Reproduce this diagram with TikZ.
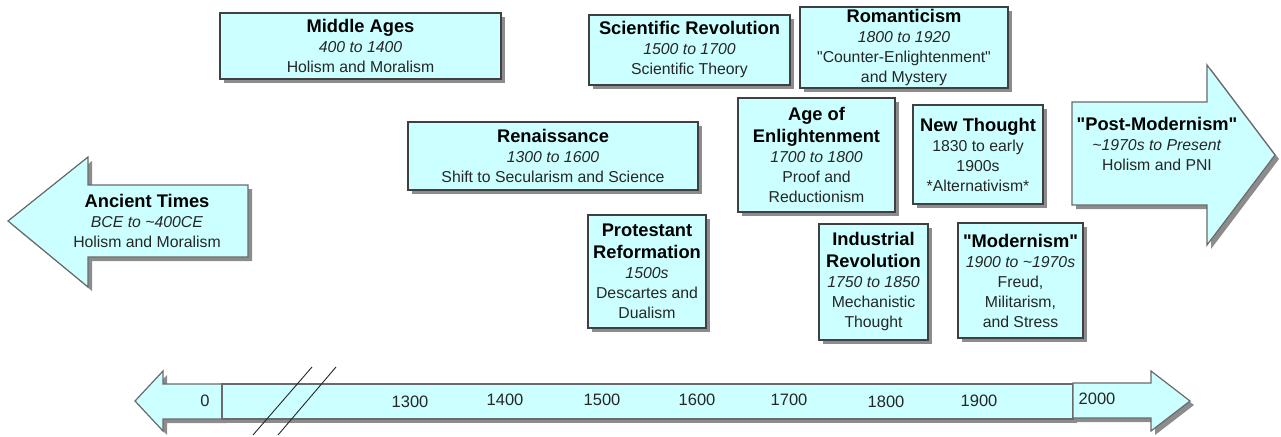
\documentclass[tikz,border=0pt]{standalone}
\usepackage{fontspec}
\setmainfont{Liberation Sans}
\usetikzlibrary{shadows}
\definecolor{boxfill}{HTML}{CCFFFF}
\definecolor{boxline}{HTML}{404040}
\definecolor{arrline}{HTML}{6A6A6A}
\definecolor{txt}{HTML}{262626}
\definecolor{shadowc}{HTML}{8C8C8C}
\newcommand\ttl[1]{{\fontsize{18.3}{22}\selectfont\bfseries\color{black}#1}}
\newcommand\dq{\textquotedbl}
\begin{document}
\begin{tikzpicture}[x=1pt,y=-1pt,
  shade/.style={drop shadow={shadow xshift=4pt, shadow yshift=-4pt, fill=shadowc, opacity=1}},
  box/.style={draw=boxline, line width=2.2pt, fill=boxfill, shade, text=txt, align=center, inner sep=0pt,
    font=\fontsize{15.8}{20}\selectfont},
  arr/.style={draw=arrline, line width=1.2pt, fill=boxfill, shade},
  lbl/.style={text=txt, align=center, inner sep=0pt, font=\fontsize{15.8}{20}\selectfont},
  yr/.style={text=txt, inner sep=0pt, font=\fontsize{16.5}{18}\selectfont},
  brk/.style={draw=black!85, line width=0.9pt}]
\useasboundingbox (0,0) rectangle (1281,436);

% big arrows
\draw[arr] (8,221) -- (88,157) -- (88,185) -- (248,185) -- (248,257) -- (88,257) -- (88,287) -- cycle;
\node[lbl] (ancient) at (147,221) {\ttl{Ancient Times}\\ \textit{BCE to \textasciitilde400CE}\\ Holism and Moralism};

\draw[arr] (1072,102) -- (1207,102) -- (1207,65) -- (1275,155) -- (1207,245) -- (1207,205) -- (1072,205) -- cycle;
\node[lbl] (postmod) at (1157,144) {\ttl{\dq Post-Modernism\dq}\\ \textit{\textasciitilde1970s to Present}\\ Holism and PNI};

% boxes
\node[box, minimum width=281pt, minimum height=66pt] (middle) at (360.5,46) {\ttl{Middle Ages}\\ \textit{400 to 1400}\\ Holism and Moralism};
\node[box, minimum width=201pt, minimum height=70pt] (scirev) at (689.5,50) {\ttl{Scientific Revolution}\\ \textit{1500 to 1700}\\ Scientific Theory};
\node[box, minimum width=208pt, minimum height=81pt] (roman) at (904,47.5) {\ttl{Romanticism}\\ \textit{1800 to 1920}\\ \dq Counter-Enlightenment\dq\\ and Mystery};
\node[box, minimum width=290pt, minimum height=68pt] (renais) at (553,156) {\ttl{Renaissance}\\ \textit{1300 to 1600}\\ Shift to Secularism and Science};
\node[box, minimum width=157pt, minimum height=114pt] (enlight) at (816.5,155) {\ttl{Age of}\\[2pt] \ttl{Enlightenment}\\ \textit{1700 to 1800}\\ Proof and\\ Reductionism};
\node[box, minimum width=130pt, minimum height=99pt] (newth) at (978,154.5) {\ttl{New Thought}\\ 1830 to early\\ 1900s\\ *Alternativism*};
\node[box, minimum width=118pt, minimum height=113pt] (protest) at (647,271.5) {\ttl{Protestant}\\[2pt] \ttl{Reformation}\\ \textit{1500s}\\ Descartes and\\ Dualism};
\node[box, minimum width=109pt, minimum height=116pt] (indus) at (873.5,282) {\ttl{Industrial}\\[2pt] \ttl{Revolution}\\ \textit{1750 to 1850}\\ Mechanistic\\ Thought};
\node[box, minimum width=125pt, minimum height=115pt] (modern) at (1020.5,280.5) {\ttl{\dq Modernism\dq}\\ \textit{1900 to \textasciitilde1970s}\\ Freud,\\ Militarism,\\ and Stress};

% timeline
\draw[arr] (135,401) -- (163,371) -- (163,384) -- (222,384) -- (222,419) -- (163,419) -- (163,431) -- cycle;
\draw[arr] (222,384) rectangle (1073,419);
\draw[arr] (1073,383) -- (1151,383) -- (1151,371) -- (1190,401) -- (1151,431) -- (1151,418) -- (1073,418) -- cycle;

\coordinate (b1a) at (253,435); \coordinate (b1b) at (312,367);
\coordinate (b2a) at (278,435); \coordinate (b2b) at (336,367);
\draw[brk] (b1a) -- (b1b);
\draw[brk] (b2a) -- (b2b);

\node[yr] (y0) at (205,401) {0};
\node[yr] (y1300) at (410,402) {1300};
\node[yr] (y1400) at (505,400) {1400};
\node[yr] (y1500) at (602,400) {1500};
\node[yr] (y1600) at (697,400) {1600};
\node[yr] (y1700) at (789,400) {1700};
\node[yr] (y1800) at (886,402) {1800};
\node[yr] (y1900) at (979,401) {1900};
\node[yr] (y2000) at (1097,399) {2000};
\end{tikzpicture}
\end{document}
